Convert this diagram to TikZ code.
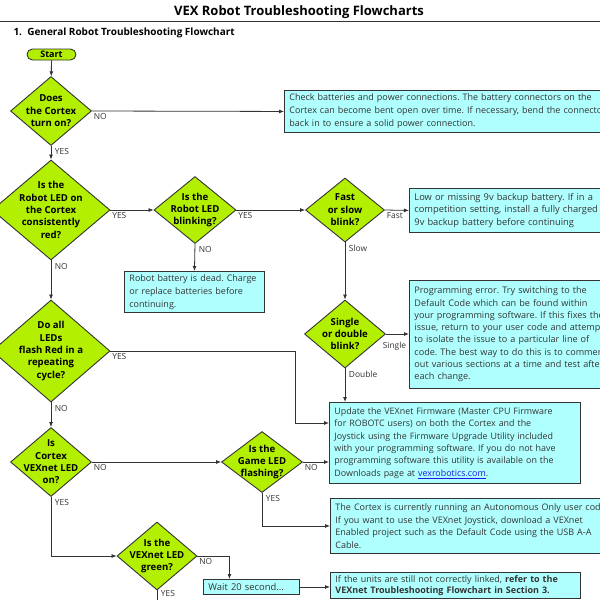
\documentclass[tikz,border=0pt]{standalone}
\usepackage{fontspec}
\setmainfont{Open Sans}
\usepackage{tikz}
\usetikzlibrary{shapes.geometric,arrows.meta}
\usetikzlibrary{positioning}
\usetikzlibrary{calc}
\frenchspacing
\definecolor{vexgreen}{HTML}{B2EF00}
\definecolor{vexcyan}{HTML}{B0FFFF}
\definecolor{vexline}{HTML}{333333}
\definecolor{vexlink}{HTML}{1A1AE6}
\tikzstyle{decision}=[draw=vexline,fill=vexgreen,diamond,inner sep=-16pt,align=center,font=\bfseries\fontsize{9.6}{12.4}\selectfont,line width=0.9pt]
\tikzstyle{infobox}=[draw=vexline,fill=vexcyan,rectangle,anchor=north west,align=left,inner xsep=5pt,inner ysep=2pt,font=\fontsize{9}{12.8}\selectfont,text=vexline,line width=0.9pt]
\tikzstyle{terminal}=[draw=vexline,fill=vexgreen,rounded corners=5.5pt,minimum width=49pt,minimum height=11pt,inner sep=0pt,font=\bfseries\fontsize{9}{10}\selectfont,line width=0.9pt]
\tikzstyle{lbl}=[font=\fontsize{8.4}{9}\selectfont,text=vexline,inner sep=1.5pt]
\tikzstyle{arr}=[draw=vexline,line width=0.8pt,-{Latex[length=5pt,width=4pt]}]
\tikzstyle{eastlbl}=[lbl,pos=0,anchor=north west,yshift=-1pt]
\tikzstyle{southlbl}=[lbl,pos=0,anchor=north west,xshift=2pt,yshift=-1pt]

\begin{document}
\begin{tikzpicture}[x=1pt,y=-1pt]
\useasboundingbox (0,0) rectangle (600,600);
\clip (0,0) rectangle (600,600);
\fill[white] (0,0) rectangle (600,600);

\node[font=\bfseries\fontsize{13}{15}\selectfont] (title) at (299,12) {VEX Robot Troubleshooting Flowcharts};
\draw[line width=1.6pt,vexline] (0,21.5) -- (600,21.5);
\node[font=\bfseries\fontsize{10}{12}\selectfont,anchor=west] (head) at (10,33) {1.\ \ General Robot Troubleshooting Flowchart};

% left column
\node[terminal] (start) at (51.5,54.5) {Start};
\node[decision,minimum width=81pt,minimum height=69pt] (cortex) at (51,111) {Does\\the Cortex\\turn on?};
\node[decision,minimum width=118pt,minimum height=100pt] (red) at (51,210) {Is the\\Robot LED on\\the Cortex\\consistently\\red?};
\node[decision,minimum width=118pt,minimum height=102pt] (flash) at (51,351) {Do all\\LEDs\\flash Red in a\\repeating\\cycle?};
\node[decision,minimum width=81pt,minimum height=69pt] (vexnet) at (51,462) {Is\\Cortex\\VEXnet LED\\on?};

% middle
\node[decision,minimum width=82pt,minimum height=67pt] (blink) at (195,210) {Is the\\Robot LED\\blinking?};
\node[infobox,text width=130pt,minimum height=41pt] (dead) at (124,271) {Robot battery is dead. Charge\\or replace batteries before\\continuing.};
\node[decision,minimum width=81pt,minimum height=61pt] (game) at (262,462) {Is the\\Game LED\\flashing?};
\node[decision,minimum width=80pt,minimum height=68pt] (green) at (157,556) {Is the\\VEXnet LED\\green?};
\node[infobox,text width=86pt,minimum height=15pt,inner ysep=0pt,font=\fontsize{9.4}{11}\selectfont] (wait) at (203,579) {Wait 20 second...};

% right
\node[decision,minimum width=79pt,minimum height=64pt] (speed) at (345,210) {Fast\\or slow\\blink?};
\node[decision,minimum width=81pt,minimum height=68pt] (count) at (345,334) {Single\\or double\\blink?};
\node[infobox,text width=330pt,minimum height=42pt] (power) at (284,90) {Check batteries and power connections. The battery connectors on the\\Cortex can become bent open over time. If necessary, bend the connectors\\back in to ensure a solid power connection.};
\node[infobox,text width=250pt,minimum height=44pt,font=\fontsize{9.3}{12.8}\selectfont] (backup) at (409,188) {Low or missing 9v backup battery. If in a\\competition setting, install a fully charged\\9v backup battery before continuing};
\node[infobox,text width=250pt,minimum height=108pt,font=\fontsize{9.1}{12.3}\selectfont] (code) at (409,280) {Programming error. Try switching to the\\Default Code which can be found within\\your programming software. If this fixes the\\issue, return to your user code and attempt\\to isolate the issue to a particular line of\\code. The best way to do this is to comment\\out various sections at a time and test after\\each change.};
\node[infobox,text width=241pt,minimum height=81pt,font=\fontsize{8.9}{12.4}\selectfont] (firmware) at (329,402) {Update the VEXnet Firmware (Master CPU Firmware\\for ROBOTC users) on both the Cortex and the\\Joystick using the Firmware Upgrade Utility included\\with your programming software. If you do not have\\programming software this utility is available on the\\Downloads page at \textcolor{vexlink}{\underline{vexrobotics.com}}.};
\node[infobox,text width=300pt,minimum height=55pt,font=\fontsize{9}{12.6}\selectfont] (auton) at (330,498) {The Cortex is currently running an Autonomous Only user code.\\If you want to use the VEXnet Joystick, download a VEXnet\\Enabled project such as the Default Code using the USB A-A\\Cable.};
\node[infobox,text width=240pt,minimum height=26pt,font=\fontsize{9}{11.5}\selectfont] (linked) at (330,572) {If the units are still not correctly linked, \textbf{refer to the}\\\textbf{VEXnet Troubleshooting Flowchart in Section 3.}};

\coordinate (J) at (295,423);
\coordinate (down) at (157,615);

\draw[arr] (start) -- (cortex);
\draw[arr] (cortex.east) -- node[eastlbl] {NO} (power.west);
\draw[arr] (cortex.south) -- node[southlbl] {YES} (red.north);
\draw[arr] (red.east) -- node[eastlbl] {YES} (blink.west);
\draw[arr] (blink.east) -- node[eastlbl] {YES} (speed.west);
\draw[arr] (blink.south) -- node[southlbl] {NO} (dead.north);
\draw[arr] (speed.east) -- node[eastlbl] {Fast} (backup.west);
\draw[arr] (speed.south) -- node[southlbl] {Slow} (count.north);
\draw[arr] (count.east) -- node[eastlbl,xshift=-5pt,yshift=-5pt] {Single} (count.east -| code.west);
\draw[arr] (count.south) -- node[southlbl] {Double} (count.south |- firmware.north);
\draw[arr] (red.south) -- node[southlbl] {NO} (flash.north);
\draw[arr] (flash.east) -| node[eastlbl] {YES} (J) -- (J -| firmware.west);
\draw[arr] (flash.south) -- node[southlbl] {NO} (vexnet.north);
\draw[arr] (vexnet.east) -- node[eastlbl] {NO} (game.west);
\draw[arr] (game.east) -- node[eastlbl] {NO} (game.east -| firmware.west);
\draw[arr] (game.south) |- node[southlbl] {YES} (game.south |- auton.west) -- (auton.west);
\draw[arr] (vexnet.south) |- node[southlbl] {YES} (green.west);
\draw[arr] (green.east) -| node[eastlbl] {NO} ([xshift=-22pt]wait.north);
\draw[arr] (wait.east) -- (wait.east -| linked.west);
\draw[arr] (green.south) -- node[southlbl,yshift=3pt] {YES} (down);
\end{tikzpicture}
\end{document}
